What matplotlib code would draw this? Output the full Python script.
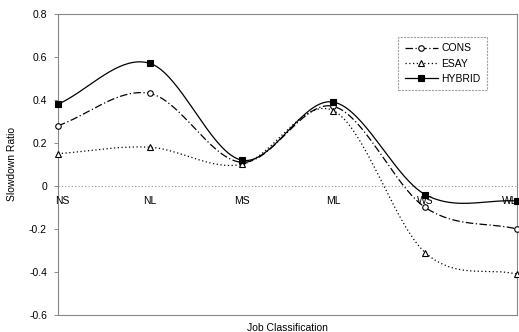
import numpy as np
import matplotlib
matplotlib.use("Agg")
import matplotlib.pyplot as plt

plt.rcParams['font.family'] = ['Liberation Sans', 'DejaVu Sans']

categories = ["NS", "NL", "MS", "ML", "WS", "WL"]
cons = [0.28, 0.43, 0.11, 0.37, -0.10, -0.20]
esay = [0.15, 0.18, 0.10, 0.35, -0.31, -0.41]
hybrid = [0.38, 0.57, 0.12, 0.39, -0.04, -0.07]

def smooth(xs, ys, n=40):
    xs = np.asarray(xs, float); ys = np.asarray(ys, float)
    px = np.concatenate([[2*xs[0]-xs[1]], xs, [2*xs[-1]-xs[-2]]])
    py = np.concatenate([[2*ys[0]-ys[1]], ys, [2*ys[-1]-ys[-2]]])
    ox, oy = [], []
    for i in range(1, len(px)-2):
        p0, p1, p2, p3 = [np.array([px[j], py[j]]) for j in range(i-1, i+3)]
        c1 = p1 + (p2 - p0) / 6
        c2 = p2 - (p3 - p1) / 6
        t = np.linspace(0, 1, n)[:, None]
        b = (1-t)**3*p1 + 3*(1-t)**2*t*c1 + 3*(1-t)*t**2*c2 + t**3*p2
        ox.extend(b[:, 0]); oy.extend(b[:, 1])
    return np.array(ox), np.array(oy)

fig = plt.figure(figsize=(5.19, 3.32), dpi=100)
ax = fig.add_axes([0.1118, 0.0512, 0.8844, 0.907])
x = np.arange(len(categories))

styles = [
    ("CONS", cons, (0, (6, 2, 1, 2)), 'o', 'white'),
    ("ESAY", esay, (0, (1, 2)), '^', 'white'),
    ("HYBRID", hybrid, '-', 's', 'black'),
]
for name, vals, ls, mk, fc in styles:
    sx, sy = smooth(x, vals)
    ax.plot(sx, sy, color='black', lw=0.9, ls=ls, zorder=3)
    ax.plot(x, vals, ls='none', marker=mk, ms=4, mfc=fc, mec='black', mew=0.8, zorder=4, clip_on=False)
    ax.plot([], [], color='black', lw=0.9, ls=ls, marker=mk, ms=4, mfc=fc, mec='black', mew=0.8, label=name)

ax.axhline(0, color='#999999', lw=0.8, ls=(0, (1, 2)), zorder=1)
ax.set_xlim(0, 5)
ax.set_ylim(-0.6, 0.8)
yt = np.arange(-0.6, 0.81, 0.2)
ax.set_yticks(yt)
ax.set_yticklabels([("0" if abs(v) < 1e-9 else f"{v:.1f}") for v in yt], fontsize=7.5)
ax.set_xticks([])
for xi, c in zip(x, categories):
    if xi == 0:
        ax.text(xi + 0.05, -0.045, c, ha='center', va='top', fontsize=7.5, zorder=5)
    elif xi == len(categories) - 1:
        ax.text(xi + 0.01, -0.045, c, ha='right', va='top', fontsize=7.5, zorder=2)
    else:
        ax.text(xi, -0.045, c, ha='center', va='top', fontsize=7.5, zorder=5)
ax.tick_params(axis='y', length=3, width=0.6, direction='out', color='#777777', pad=5)
for s in ax.spines.values():
    s.set_color('#888888'); s.set_linewidth(0.8)
ax.set_xlabel("Job Classification", fontsize=7.5)
ax.xaxis.set_label_coords(0.5, -0.025)
ax.set_ylabel("Slowdown Ratio", fontsize=7.5)
ax.yaxis.set_label_coords(-0.09, 0.5)

leg = ax.legend(loc='upper right', bbox_to_anchor=(0.945, 0.94), fontsize=7.5, frameon=True,
                fancybox=False, handlelength=3.2, handletextpad=0.3, borderpad=0.6, labelspacing=0.5)
leg.get_frame().set_edgecolor('#888888'); leg.get_frame().set_linewidth(0.8); leg.get_frame().set_linestyle((0, (2, 1)))

fig.savefig("out.png", dpi=100)
